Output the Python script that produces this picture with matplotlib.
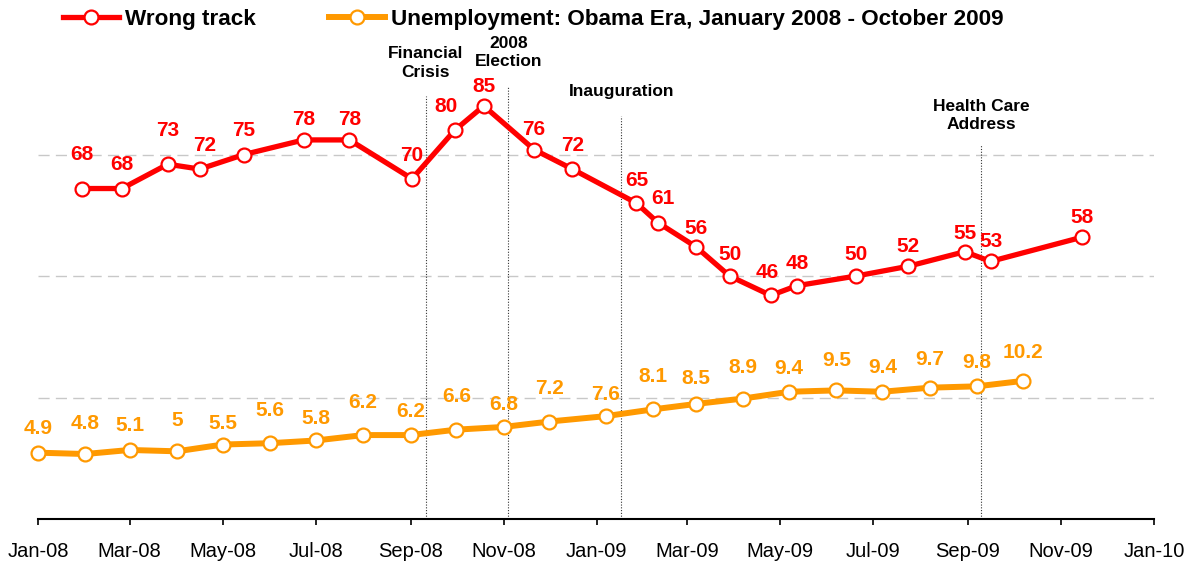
import pandas as pd
import matplotlib
matplotlib.use("Agg")
import matplotlib.pyplot as plt
import matplotlib.dates as mdates

#-----------------------------------------------------------------------
# Data
#-----------------------------------------------------------------------

wrong_track_dates = ["2008-01-30", "2008-02-25", "2008-03-26", "2008-04-16",
                     "2008-05-15", "2008-06-23", "2008-07-23", "2008-09-02",
                     "2008-09-30", "2008-10-19", "2008-11-21", "2008-12-16",
                     "2009-01-27", "2009-02-10", "2009-03-07", "2009-03-29",
                     "2009-04-25", "2009-05-12", "2009-06-20", "2009-07-24",
                     "2009-08-30", "2009-09-16", "2009-11-15"]
wrong_track = [68, 68, 73, 72, 75, 78, 78, 70, 80, 85, 76, 72,
               65, 61, 56, 50, 46, 48, 50, 52, 55, 53, 58]

unemp_dates = ["2008-01-01", "2008-02-01", "2008-03-01", "2008-04-01",
               "2008-05-01", "2008-06-01", "2008-07-01", "2008-08-01",
               "2008-09-01", "2008-10-01", "2008-11-01", "2008-12-01",
               "2009-01-07", "2009-02-07", "2009-03-07", "2009-04-07",
               "2009-05-07", "2009-06-07", "2009-07-07", "2009-08-07",
               "2009-09-07", "2009-10-07"]
unemployment = [4.9, 4.8, 5.1, 5.0, 5.5, 5.6, 5.8, 6.2, 6.2, 6.6, 6.8, 7.2,
                7.6, 8.1, 8.5, 8.9, 9.4, 9.5, 9.4, 9.7, 9.8, 10.2]

event_dates = ["2008-09-11", "2008-11-04", "2009-01-17", "2009-09-10"]
event_labels = ["Financial\nCrisis", "2008\nElection", "Inauguration",
                "Health Care\nAddress"]

legend_labels = ["Wrong track",
                 "Unemployment: Obama Era, January 2008 - October 2009"]


def main():
    plt.rcParams['font.family'] = ['Liberation Sans', 'DejaVu Sans']
    RED = "#FF0000"
    ORANGE = "#FF9900"
    PX = 0.72  # points per pixel at dpi 100

    fig = plt.figure(figsize=(11.88, 5.62), dpi=100)
    ax = fig.add_axes([38 / 1188, 43 / 562, 1116 / 1188, 486 / 562])
    ax2 = ax.twinx()

    wt_x = pd.to_datetime(wrong_track_dates)
    ue_x = pd.to_datetime(unemp_dates)

    #---------------------------------------------------------------
    # Axes, grid, ticks
    #---------------------------------------------------------------
    ax.set_xlim(pd.Timestamp("2008-01-01"), pd.Timestamp("2010-01-01"))
    ax.set_ylim(0, 100)
    ax2.set_ylim(0, 35.9)

    ax.set_yticks([25, 50, 75])
    ax.yaxis.grid(True, color="#C8C8C8", linestyle=(0, (8, 4.5)), linewidth=1)
    ax.tick_params(axis="y", length=0, labelleft=False)
    ax2.set_yticks([])
    for s in ["left", "top", "right"]:
        ax.spines[s].set_visible(False)
    for s in ax2.spines.values():
        s.set_visible(False)
    ax.spines["bottom"].set_linewidth(1.5)

    ax.set_xticks(pd.date_range("2008-01-01", "2010-01-01", freq="2MS"))
    ax.xaxis.set_major_formatter(mdates.DateFormatter("%b-%y"))
    ax.tick_params(axis="x", length=4.5, width=1.2, pad=12, labelsize=14.5)

    #---------------------------------------------------------------
    # Event markers
    #---------------------------------------------------------------
    line_tops = [87, 89, 83, 77]
    text_y = [93.8, 96, 88, 83]
    for d, lab, top, ty in zip(event_dates, event_labels, line_tops, text_y):
        ax.vlines(pd.Timestamp(d), 0, top, colors="#333333",
                  linestyles=(0, (1, 1.5)), linewidth=0.8)
        ax.text(pd.Timestamp(d), ty, lab, ha="center", va="center",
                fontsize=12.5, fontweight="bold", linespacing=1.3)

    #---------------------------------------------------------------
    # Series
    #---------------------------------------------------------------
    l1, = ax.plot(wt_x, wrong_track, color=RED, lw=3.8, marker="o", ms=10,
                  mfc="white", mec=RED, mew=1.6, zorder=5, clip_on=False)
    l2, = ax2.plot(ue_x, unemployment, color=ORANGE, lw=4.3, marker="o", ms=10,
                   mfc="white", mec=ORANGE, mew=1.6, zorder=5, clip_on=False)

    red_lift = [34, 24, 34, 24, 24, 20, 20, 23, 24, 19, 20, 24,
                23, 24, 18, 22, 23, 22, 21, 20, 18, 20, 20]
    red_shift = {3: 5, 8: -9, 13: 5, 16: -4}
    for i, (x, v) in enumerate(zip(wt_x, wrong_track)):
        ax.annotate(str(v), (x, v), xytext=(red_shift.get(i, 0) * PX, red_lift[i] * PX),
                    textcoords="offset points", ha="center", va="center",
                    color=RED, fontsize=15, fontweight="bold", zorder=6)

    orange_lift = [24, 31, 24, 31, 21, 33, 22, 33, 24, 33, 22, 33,
                   22, 33, 25, 31, 23, 30, 24, 28, 24, 28]
    for i, (x, v) in enumerate(zip(ue_x, unemployment)):
        ax2.annotate("{:g}".format(v), (x, v), xytext=(0, orange_lift[i] * PX),
                     textcoords="offset points", ha="center", va="center",
                     color=ORANGE, fontsize=15, fontweight="bold", zorder=6)

    #---------------------------------------------------------------
    # Legend
    #---------------------------------------------------------------
    fig.legend([l1, l2], legend_labels, loc="center left",
               bbox_to_anchor=(63 / 1188, 1 - 19 / 562), ncol=2, frameon=False,
               prop={"size": 16.2, "weight": "bold"}, handlelength=2.5,
               handletextpad=0.25, columnspacing=3.25, borderpad=0,
               borderaxespad=0)

    fig.savefig("out.png", dpi=100)


if __name__ == "__main__":
    main()
